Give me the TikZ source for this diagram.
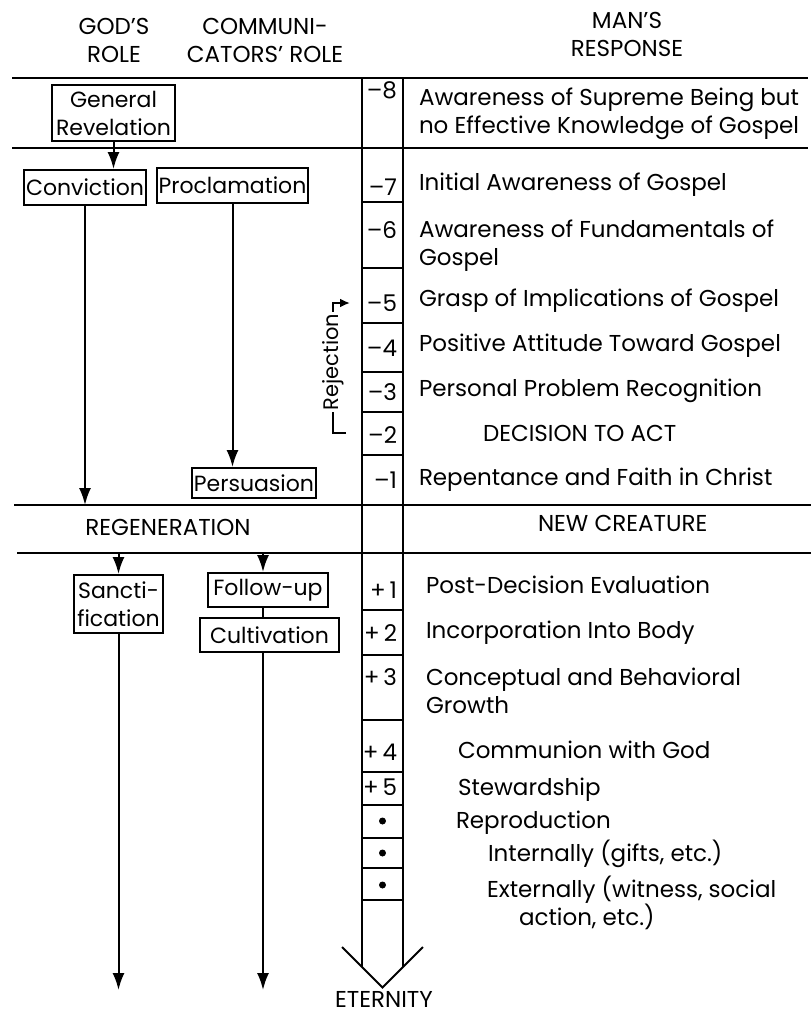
\documentclass[tikz,border=0pt]{standalone}
\usepackage{fontspec}
\setmainfont{Poppins}
\usetikzlibrary{arrows.meta}

\begin{document}
\begin{tikzpicture}
  [x=1pt,y=-1pt,line width=2pt,
   arr/.style={-{Latex[length=17pt,width=12pt]}},
   every node/.style={font=\fontsize{23}{28}\selectfont,inner sep=0pt},
   box/.style={draw,align=center,inner sep=2pt,font=\fontsize{22}{28}\selectfont},
   txt/.style={anchor=base west,align=left},
   num/.style={anchor=base east}]
  \useasboundingbox (0,0) rectangle (811,1015);

  \node[align=center] (godrole) at (114,40) {GOD'S\\ROLE};
  \node[align=center] (comrole) at (265,40) {COMMUNI-\\CATORS' ROLE};
  \node[align=center] (manresp) at (627,34) {MAN'S\\RESPONSE};

  \coordinate (la1) at (12,78);  \coordinate (la2) at (808,78);
  \coordinate (lb1) at (12,148); \coordinate (lb2) at (808,148);
  \coordinate (lc1) at (14,505); \coordinate (lc2) at (811,505);
  \coordinate (ld1) at (17,553); \coordinate (ld2) at (811,553);
  \foreach \from/\to in {la1/la2,lb1/lb2,lc1/lc2,ld1/ld2}
    \draw (\from) -- (\to);

  \coordinate (ctl) at (362,78);  \coordinate (ctr) at (403,78);
  \coordinate (cbl) at (362,967); \coordinate (cbr) at (403,967);
  \coordinate (tipl) at (342,947); \coordinate (tip) at (382.5,987.5);
  \coordinate (tipr) at (423,947);
  \draw (ctl) -- (cbl);
  \draw (ctr) -- (cbr);
  \draw (tipl) -- (tip) -- (tipr);
  \foreach \y in {202,268,323,372,412,455,610,655,720,772,805,838,868,900}
    \draw (362,\y) -- (403,\y);
  \node[anchor=base] (eternity) at (384,1007) {ETERNITY};

  \foreach \n/\y [count=\i] in {--8/98,--7/195,--6/238,--5/311,--4/356,--3/400,--2/443,--1/488,
                    +\,1/598,+\,2/641,+\,3/685,+\,4/760,+\,5/795}
    \node[num] (lv\i) at (398,\y) {\n};
  \foreach \y [count=\i] in {821,853,885}
    \node[circle,fill,minimum size=7pt] (dot\i) at (382.5,\y) {};

  \node[txt] (r8) at (418,133) {Awareness of Supreme Being but\\no Effective Knowledge of Gospel};
  \node[txt] (r7) at (418,190) {Initial Awareness of Gospel};
  \node[txt] (r6) at (418,265) {Awareness of Fundamentals of\\Gospel};
  \node[txt] (r5) at (418,306) {Grasp of Implications of Gospel};
  \node[txt] (r4) at (418,351) {Positive Attitude Toward Gospel};
  \node[txt] (r3) at (418,396) {Personal Problem Recognition};
  \node[txt] (r2) at (482,441) {DECISION TO ACT};
  \node[txt] (r1) at (418,485) {Repentance and Faith in Christ};
  \node[txt] (rnew) at (537,531) {NEW CREATURE};
  \node[txt] (p1) at (425,593) {Post-Decision Evaluation};
  \node[txt] (p2) at (425,638) {Incorporation Into Body};
  \node[txt] (p3) at (425,713) {Conceptual and Behavioral\\Growth};
  \node[txt] (p4) at (457,758) {Communion with God};
  \node[txt] (p5) at (457,795) {Stewardship};
  \node[txt] (repro) at (455,828) {Reproduction};
  \node[txt] (intl) at (487,861) {Internally (gifts, etc.)};
  \node[txt] (extl) at (486,925) {Externally (witness, social\\\hspace*{32pt}action, etc.)};

  \node[box,minimum width=123,minimum height=56] (genrev) at (113.5,113) {General\\Revelation};
  \node[box,minimum width=122,minimum height=35] (conv) at (85,187.5) {Conviction};
  \node[box,minimum width=151,minimum height=35] (procl) at (232.5,185.5) {Proclamation};
  \node[box,minimum width=124,minimum height=30] (pers) at (254,483) {Persuasion};
  \node (regen) at (168,527) {REGENERATION};
  \node[box,minimum width=89,minimum height=58] (sanct) at (118.5,604) {Sancti-\\fication};
  \node[box,minimum width=120,minimum height=34] (follow) at (268,590) {Follow-up};
  \node[box,minimum width=139,minimum height=34] (cult) at (269.5,635) {Cultivation};

  \coordinate (bot) at (0,990);
  \coordinate (fu) at (263,553);
  \draw[arr] (genrev.south) -- (genrev.south |- conv.north);
  \draw[arr] (conv.south) -- (conv.south |- lc1);
  \draw[arr] (procl.south) -- (procl.south |- pers.north);
  \draw[arr] (sanct.north |- ld1) -- (sanct.north);
  \draw[arr] (fu) -- (fu |- follow.north);
  \draw (fu |- follow.south) -- (fu |- cult.north);
  \draw[arr] (sanct.south) -- (sanct.south |- bot);
  \draw[arr] (fu |- cult.south) -- (fu |- bot);

  \node[rotate=90,font=\fontsize{21}{24}\selectfont,inner sep=1pt] (rej) at (333,362) {Rejection};
  \coordinate (rejlo) at (346,433);
  \coordinate (rejhi) at (350,303);
  \draw (rejlo) -| (rej.west);
  \draw[-{Latex[length=10pt,width=9pt]}] (rej.east) |- (rejhi);
\end{tikzpicture}
\end{document}
